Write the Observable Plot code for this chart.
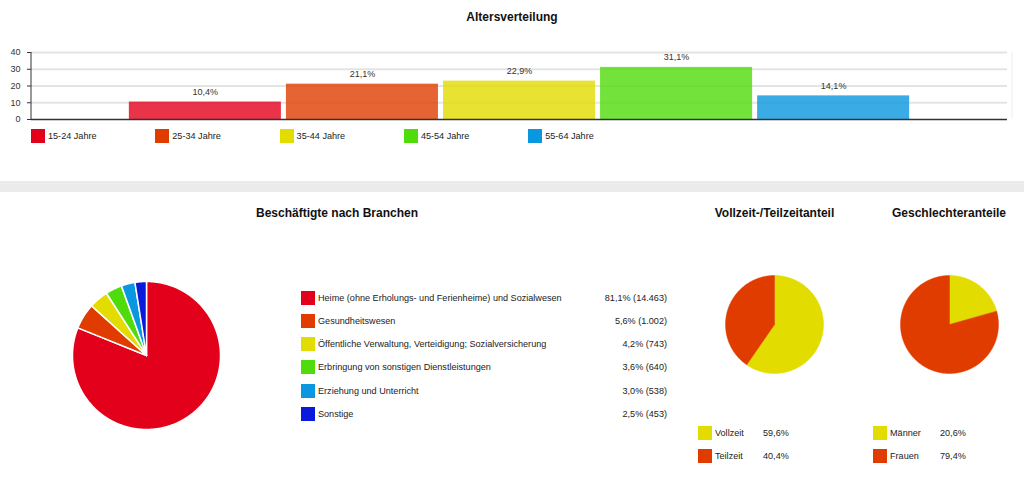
<!DOCTYPE html>
<html>
<head>
<meta charset="utf-8">
<script src="https://cdn.jsdelivr.net/npm/d3@7"></script>
<script src="https://cdn.jsdelivr.net/npm/@observablehq/plot@0.6"></script>
<style>
  html, body { margin: 0; padding: 0; background: #fff; }
  #root { position: relative; width: 1024px; height: 479px; overflow: hidden; font-family: "Liberation Sans", Arial, sans-serif; color: #222; }
  .abs { position: absolute; white-space: nowrap; }
  .title { font-weight: bold; font-size: 12px; color: #111; }
  .lbl { font-size: 9.1px; line-height: 14px; color: #222; }
  .sw { width: 14px; height: 14px; }
</style>
</head>
<body>
<div id="root"></div>
<script>
// ---------- data ----------
const ageGroups = ["15-24 Jahre", "25-34 Jahre", "35-44 Jahre", "45-54 Jahre", "55-64 Jahre"];
const ageValues = [10.4, 21.1, 22.9, 31.1, 14.1];
const ageColors = ["#e2001a", "#e03c00", "#e2dc00", "#50dc0a", "#0a96e0"];
const ageTicks = [0, 10, 20, 30, 40];

const branchLabels = [
  "Heime (ohne Erholungs- und Ferienheime) und Sozialwesen",
  "Gesundheitswesen",
  "Öffentliche Verwaltung, Verteidigung; Sozialversicherung",
  "Erbringung von sonstigen Dienstleistungen",
  "Erziehung und Unterricht",
  "Sonstige"
];
const branchShares = [81.1, 5.6, 4.2, 3.6, 3.0, 2.5];
const branchCounts = ["14.463", "1.002", "743", "640", "538", "453"];
const branchColors = ["#e2001a", "#e03c00", "#e2dc00", "#50dc0a", "#0a96e0", "#0a1adc"];

const zeitLabels = ["Vollzeit", "Teilzeit"];
const zeitValues = [59.6, 40.4];
const genderLabels = ["Männer", "Frauen"];
const genderValues = [20.6, 79.4];
const pairColors = ["#e2dc00", "#e03c00"];

// ---------- helpers ----------
const root = document.getElementById("root");
const fmt = v => v.toFixed(1).replace(".", ",") + "%";
function place(el, left, top) {
  el.classList.add("abs");
  el.style.left = left + "px";
  el.style.top = top + "px";
  root.appendChild(el);
  return el;
}
function text(str, cls, left, top, extra = {}) {
  const d = document.createElement("div");
  d.className = cls;
  d.textContent = str;
  Object.assign(d.style, extra);
  return place(d, left, top);
}
function centeredTitle(str, cx, cy) {
  return text(str, "title", cx, cy - 7, { lineHeight: "14px", transform: "translateX(-50%)" });
}
function swatch(color, left, cy) {
  const d = document.createElement("div");
  d.className = "sw";
  d.style.background = color;
  return place(d, left, cy - 7);
}
const plotStyle = { fontFamily: "Liberation Sans, Arial, sans-serif", fontSize: "9px", color: "#333", background: "transparent", overflow: "visible" };

// ---------- Altersverteilung ----------
centeredTitle("Altersverteilung", 512, 17);
const ageData = ageGroups.map((g, i) => ({ group: g, value: ageValues[i], color: ageColors[i] }));
const barPlot = Plot.plot({
  width: 1024, height: 125,
  marginLeft: 31, marginRight: 17, marginTop: 52, marginBottom: 6,
  style: plotStyle,
  x: { domain: ageGroups, paddingInner: 0.032, paddingOuter: 0.623, round: false, axis: null },
  y: { domain: [0, 40], axis: null },
  color: { type: "identity" },
  marks: [
    Plot.gridY(ageTicks.filter(t => t > 0), { stroke: "#e4e4e4", strokeOpacity: 1, strokeWidth: 2 }),
    Plot.barY(ageData, { x: "group", y: "value", fill: "color", fillOpacity: 0.8 }),
    Plot.text(ageData, { x: "group", y: "value", text: d => fmt(d.value), dy: -10, fontSize: 9, fill: "#333" }),
    Plot.axisY(ageTicks, { label: null, tickSize: 4, tickPadding: 7, fontSize: 9, stroke: "#333", fill: "#333" }),
    (index, scales, values, dims) => {
      const g = d3.create("svg:g");
      g.append("line")
        .attr("x1", dims.marginLeft).attr("x2", dims.marginLeft)
        .attr("y1", scales.y(40)).attr("y2", scales.y(0))
        .attr("stroke", "#333").attr("stroke-width", 1);
      g.append("line")
        .attr("x1", dims.width - dims.marginRight + 5).attr("x2", dims.width - dims.marginRight + 5)
        .attr("y1", scales.y(40)).attr("y2", scales.y(0))
        .attr("stroke", "#eee").attr("stroke-width", 1);
      return g.node();
    },
    Plot.ruleY([0], { stroke: "#333", strokeWidth: 1.5 })
  ]
});
place(barPlot, 0, 0);

ageGroups.forEach((g, i) => {
  const x = 31 + i * 124.3;
  swatch(ageColors[i], x, 136);
  text(g, "lbl", x + 17, 129);
});

// separator band
const band = document.createElement("div");
band.style.width = "1024px"; band.style.height = "11px"; band.style.background = "#ebebeb";
place(band, 0, 181);

// ---------- pie helper ----------
function piePlot(values, colors, r, pad, strokeWidth) {
  const total = d3.sum(values);
  const pts = [];
  let acc = 0;
  values.forEach((v, i) => {
    const a0 = acc / total * 2 * Math.PI;
    acc += v;
    const a1 = acc / total * 2 * Math.PI;
    const n = Math.max(2, Math.ceil((a1 - a0) / (Math.PI / 360)));
    pts.push({ k: i, x: 0, y: 0, c: colors[i] });
    for (let j = 0; j <= n; j++) {
      const a = a0 + (a1 - a0) * j / n;
      pts.push({ k: i, x: Math.sin(a), y: Math.cos(a), c: colors[i] });
    }
    pts.push({ k: i, x: 0, y: 0, c: colors[i] });
  });
  return Plot.plot({
    width: 2 * r + 2 * pad, height: 2 * r + 2 * pad, margin: 0,
    style: plotStyle,
    x: { domain: [-1, 1], range: [pad, pad + 2 * r], axis: null },
    y: { domain: [-1, 1], range: [pad + 2 * r, pad], axis: null },
    color: { type: "identity" },
    marks: [
      Plot.line(pts, { x: "x", y: "y", z: "k", fill: "c", stroke: strokeWidth ? "white" : "c", strokeWidth: strokeWidth || 0.5, strokeLinejoin: "round" })
    ]
  });
}

// ---------- Beschäftigte nach Branchen ----------
centeredTitle("Beschäftigte nach Branchen", 337, 213);
const bigR = 74, bigPad = 3;
place(piePlot(branchShares, branchColors, bigR, bigPad, 1.5), 145.5 - bigR - bigPad, 355 - bigR - bigPad);
branchLabels.forEach((lab, i) => {
  const cy = 297.5 + i * 23.3;
  swatch(branchColors[i], 301, cy);
  text(lab, "lbl", 318, cy - 7);
  text(fmt(branchShares[i]) + " (" + branchCounts[i] + ")", "lbl", 667, cy - 7, { transform: "translateX(-100%)" });
});

// ---------- Vollzeit-/Teilzeitanteil ----------
centeredTitle("Vollzeit-/Teilzeitanteil", 774.5, 213);
const smR = 49, smPad = 2;
place(piePlot(zeitValues, pairColors, smR, smPad, 0), 774.3 - smR - smPad, 323.5 - smR - smPad);
zeitLabels.forEach((lab, i) => {
  const cy = 433 + i * 23.3;
  swatch(pairColors[i], 698, cy);
  text(lab, "lbl", 715, cy - 7);
  text(fmt(zeitValues[i]), "lbl", 763, cy - 7);
});

// ---------- Geschlechteranteile ----------
centeredTitle("Geschlechteranteile", 949, 213);
place(piePlot(genderValues, pairColors, smR, smPad, 0), 949.2 - smR - smPad, 323.5 - smR - smPad);
genderLabels.forEach((lab, i) => {
  const cy = 433 + i * 23.3;
  swatch(pairColors[i], 873, cy);
  text(lab, "lbl", 890, cy - 7);
  text(fmt(genderValues[i]), "lbl", 940, cy - 7);
});
</script>
</body>
</html>
